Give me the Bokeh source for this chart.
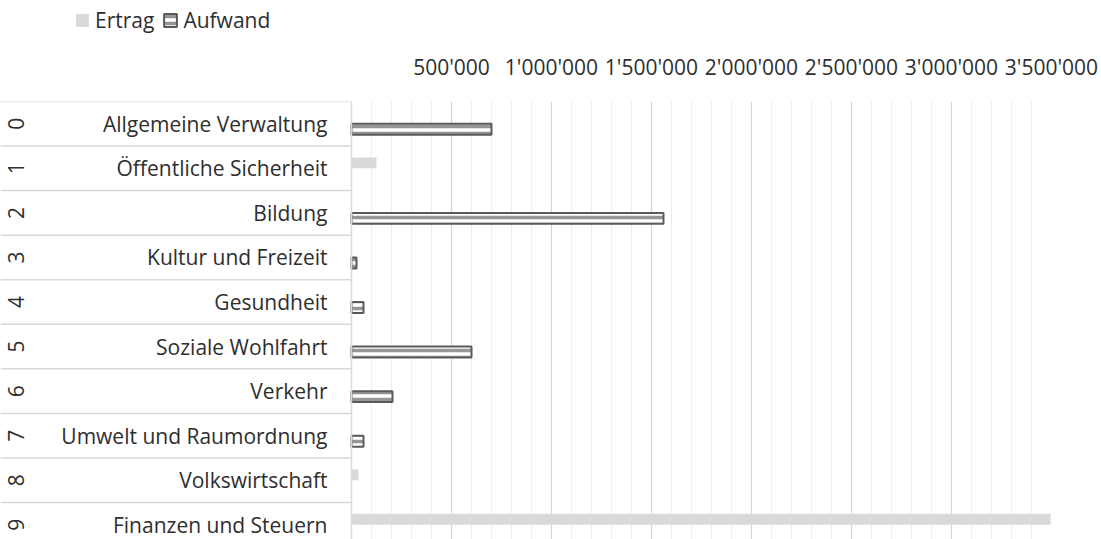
import math
from bokeh.plotting import figure
from bokeh.layouts import column
from bokeh.models import (ColumnDataSource, Range1d, FixedTicker, Legend, LegendItem, Span)
from bokeh.transform import dodge
from bokeh.core.properties import value
from bokeh.embed import file_html
from bokeh.resources import INLINE

# ---- data ----
codes = ["0", "1", "2", "3", "4", "5", "6", "7", "8", "9"]
categories = ["Allgemeine Verwaltung", "Öffentliche Sicherheit", "Bildung",
              "Kultur und Freizeit", "Gesundheit", "Soziale Wohlfahrt", "Verkehr",
              "Umwelt und Raumordnung", "Volkswirtschaft", "Finanzen und Steuern"]
ertrag = [None, 125000, None, None, None, None, None, None, 35000, 3495000]
aufwand = [700000, None, 1560000, 25000, 60000, 600000, 205000, 60000, None, None]
tick_values = [500000, 1000000, 1500000, 2000000, 2500000, 3000000, 3500000]
tick_labels = ["500'000", "1'000'000", "1'500'000", "2'000'000", "2'500'000",
               "3'000'000", "3'500'000"]
series_names = ["Ertrag", "Aufwand"]

nan = float("nan")
src = ColumnDataSource(dict(
    idx=list(range(len(categories))),
    cat=categories,
    code=codes,
    ertrag=[nan if v is None else v for v in ertrag],
    aufwand=[nan if v is None else v for v in aufwand],
))

FONT = value("Open Sans")
FS = "21px"
TXT = "#2e2e2e"
W = 1100
LEG_H = 45
H = 539 - LEG_H
TOP = 101 - LEG_H
x_max = tick_values[-1]
px_zero = 351          # px from frame left to value 0
frame_w = 1051
x_min = -x_max * px_zero / (frame_w - px_zero)
y_bottom = -0.5 + (539 - 100.6) / 44.6

ertrag_style = dict(fill_color="#d9d9d9", line_color=None)
aufwand_style = dict(fill_color="white", line_color="#5a5a5a", line_width=2,
                     hatch_pattern="horizontal_line", hatch_color="#969696",
                     hatch_scale=7, hatch_weight=3.5)

p = figure(width=W, height=H, output_backend="svg", toolbar_location=None,
           x_range=Range1d(x_min, x_max), y_range=Range1d(y_bottom, -0.5),
           x_axis_location="above", y_axis_location=None,
           min_border_left=0, min_border_right=W - frame_w, min_border_bottom=0,
           min_border_top=TOP)
p.outline_line_color = None
p.background_fill_color = "white"
p.ygrid.visible = False

minor = [v for v in range(100000, x_max, 100000) if v % 500000 != 0]
ax = p.xaxis[0]
ax.ticker = FixedTicker(ticks=tick_values, minor_ticks=minor)
ax.major_label_overrides = {v: l for v, l in zip(tick_values, tick_labels)}
ax.axis_line_color = None
ax.major_tick_line_color = None
ax.minor_tick_line_color = None
ax.major_tick_out = 0
ax.major_label_standoff = 17
ax.major_label_text_font = "Open Sans"
ax.major_label_text_font_size = FS
ax.major_label_text_color = TXT
p.xgrid.grid_line_color = "#d6d6d6"
p.xgrid.grid_line_width = 1.2
p.xgrid.minor_grid_line_color = "#ededed"
p.xgrid.minor_grid_line_width = 1

# row separators in left label area
n = len(categories)
bounds = [k - 0.5 for k in range(n + 1)]
p.segment(x0=x_min, x1=0, y0=bounds, y1=bounds, line_color="#d9d9d9", line_width=1.5)
p.add_layout(Span(location=0, dimension="height", line_color="#d9d9d9", line_width=1.5))

p.hbar(y=dodge("idx", -0.123, range=p.y_range), left=0, right="ertrag", height=0.245,
       source=src, **ertrag_style)
p.hbar(y=dodge("idx", 0.123, range=p.y_range), left=0, right="aufwand", height=0.245,
       source=src, **aufwand_style)

p.text(x=0, y="idx", text="cat", source=src, x_offset=-24, text_align="right",
       text_baseline="middle", text_font=FONT, text_font_size=FS, text_color=TXT)
p.text(x=0, y="idx", text="code", source=src, x_offset=-336, angle=math.pi / 2,
       text_align="center", text_baseline="middle", text_font=FONT,
       text_font_size=FS, text_color=TXT)

# ---- legend strip on top (proxy bars have no drawable extent) ----
lf = figure(width=W, height=LEG_H, output_backend="svg", toolbar_location=None,
            x_range=Range1d(0, 1), y_range=Range1d(0, 1),
            x_axis_location=None, y_axis_location=None,
            min_border_left=0, min_border_right=0, min_border_top=0, min_border_bottom=0)
lf.outline_line_color = None
lf.xgrid.visible = False
lf.ygrid.visible = False
proxy = ColumnDataSource(dict(y=[nan], right=[nan]))
lr_e = lf.hbar(y="y", left=0, right="right", height=0.3, source=proxy, **ertrag_style)
lr_a = lf.hbar(y="y", left=0, right="right", height=0.3, source=proxy, **aufwand_style)

legend = Legend(items=[LegendItem(label=series_names[0], renderers=[lr_e]),
                       LegendItem(label=series_names[1], renderers=[lr_a])],
                orientation="horizontal", location=(74, 11))
legend.border_line_color = None
legend.background_fill_alpha = 0
legend.label_text_font = "Open Sans"
legend.label_text_font_size = FS
legend.label_text_color = TXT
legend.glyph_width = 16
legend.glyph_height = 16
legend.label_standoff = 5
legend.spacing = 8
legend.padding = 4
legend.margin = 0
lf.add_layout(legend)

layout = column(lf, p, spacing=0)
open("out.html", "w").write(file_html(layout, INLINE))
